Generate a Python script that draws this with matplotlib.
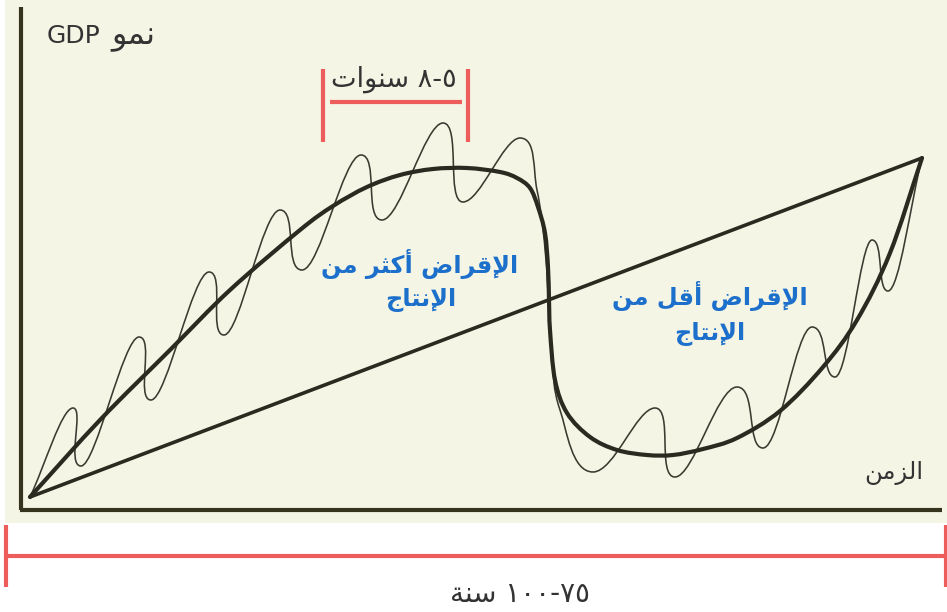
import matplotlib
matplotlib.use("Agg")
import matplotlib.pyplot as plt
from matplotlib.path import Path
from matplotlib.patches import PathPatch, Rectangle
import numpy as np

plt.rcParams['font.family'] = ['DejaVu Sans']

# ---------------- data (pixel-like units) ----------------
trend_x = [30, 922]
trend_y = [497, 158]

cycle_x = [30, 100, 170, 230, 300, 333, 367, 400, 433, 467, 500, 517, 530, 538,
           545, 548, 549, 550, 555, 567, 590, 617, 647, 673, 703, 737, 780, 823,
           857, 890, 922]
cycle_y = [497, 420, 350, 290, 230, 206, 187, 175, 169, 168, 172, 178, 188, 207,
           233, 267, 300, 330, 380, 413, 437, 450, 455, 455, 449, 438, 411, 367,
           320, 253, 158]

# short-cycle trace; wave_turn marks turning points (peaks / troughs)
wave_x = [30, 73, 81, 139, 151, 209, 224, 280, 302, 361, 382, 443, 463, 520,
          537, 546, 551, 560, 593, 655, 675, 737, 763, 812, 835, 872, 888, 922]
wave_y = [497, 408, 466, 337, 400, 272, 335, 210, 270, 155, 220, 123, 202, 138,
          190, 260, 350, 410, 472, 408, 477, 387, 448, 327, 377, 240, 291, 158]
wave_turn = [0, 1, 1, 1, 1, 1, 1, 1, 1, 1, 1, 1, 1, 1,
             0, 0, 0, 0, 1, 1, 1, 1, 1, 1, 1, 1, 1, 0]

label_y_axis = "نمو"
label_gdp = "GDP"
label_time = "الزمن"
label_short = "سنوات"
label_short_num = "٨-٥"
label_long = "سنة"
label_long_num = "١٠٠-٧٥"
label_more = ["الإقراض أكثر من", "الإنتاج"]
label_less = ["الإقراض أقل من", "الإنتاج"]

# ---------------- minimal Arabic shaping ----------------
FORMS = {
    'ا': ('\uFE8D', '\uFE8E', None, None),
    'أ': ('\uFE83', '\uFE84', None, None),
    'إ': ('\uFE87', '\uFE88', None, None),
    'ت': ('\uFE95', '\uFE96', '\uFE97', '\uFE98'),
    'ث': ('\uFE99', '\uFE9A', '\uFE9B', '\uFE9C'),
    'ج': ('\uFE9D', '\uFE9E', '\uFE9F', '\uFEA0'),
    'ر': ('\uFEAD', '\uFEAE', None, None),
    'ز': ('\uFEAF', '\uFEB0', None, None),
    'س': ('\uFEB1', '\uFEB2', '\uFEB3', '\uFEB4'),
    'ض': ('\uFEBD', '\uFEBE', '\uFEBF', '\uFEC0'),
    'ق': ('\uFED5', '\uFED6', '\uFED7', '\uFED8'),
    'ك': ('\uFED9', '\uFEDA', '\uFEDB', '\uFEDC'),
    'ل': ('\uFEDD', '\uFEDE', '\uFEDF', '\uFEE0'),
    'م': ('\uFEE1', '\uFEE2', '\uFEE3', '\uFEE4'),
    'ن': ('\uFEE5', '\uFEE6', '\uFEE7', '\uFEE8'),
    'و': ('\uFEED', '\uFEEE', None, None),
    'ة': ('\uFE93', '\uFE94', None, None),
}
LAM_ALEF = {'ا': ('\uFEFB', '\uFEFC'), 'أ': ('\uFEF7', '\uFEF8'), 'إ': ('\uFEF9', '\uFEFA')}


def shape(s):
    toks = []
    i = 0
    while i < len(s):
        c = s[i]
        if c == 'ل' and i + 1 < len(s) and s[i + 1] in LAM_ALEF:
            toks.append(('LA', s[i + 1]))
            i += 2
        else:
            toks.append(('C', c))
            i += 1

    def is_ar(t):
        return t[0] == 'LA' or t[1] in FORMS

    def joins_next(t):
        return t[0] == 'C' and t[1] in FORMS and FORMS[t[1]][2] is not None

    out = []
    for k, t in enumerate(toks):
        pj = k > 0 and joins_next(toks[k - 1]) and is_ar(t)
        nj = joins_next(t) and k + 1 < len(toks) and is_ar(toks[k + 1])
        if t[0] == 'LA':
            out.append(LAM_ALEF[t[1]][1] if pj else LAM_ALEF[t[1]][0])
        elif t[1] in FORMS:
            f = FORMS[t[1]]
            if pj and nj:
                out.append(f[3])
            elif pj:
                out.append(f[1])
            elif nj:
                out.append(f[2])
            else:
                out.append(f[0])
        else:
            out.append(t[1])
    return ''.join(reversed(out))


def smooth_path(xs, ys, turn=None, round_k=1.0):
    """Cubic Hermite path through the knots; turning points get horizontal tangents."""
    P = np.column_stack([xs, ys]).astype(float)
    n = len(P)
    if turn is None:
        turn = [0] * n
    T = np.zeros_like(P)
    for i in range(n):
        a = P[i - 1] if i > 0 else P[i]
        b = P[i + 1] if i + 1 < n else P[i]
        d = (b - a) if (i == 0 or i == n - 1) else (b - a) / 2.0
        if turn[i]:
            T[i] = [d[0] * round_k, 0.0]
        else:
            T[i] = d
    verts = [P[0]]
    codes = [Path.MOVETO]
    for i in range(n - 1):
        verts += [P[i] + T[i] / 3.0, P[i + 1] - T[i + 1] / 3.0, P[i + 1]]
        codes += [Path.CURVE4] * 3
    return Path(verts, codes)


# ---------------- figure ----------------
W, H = 947, 612
fig = plt.figure(figsize=(W / 100, H / 100), dpi=100)
fig.patch.set_facecolor('white')
ax = fig.add_axes([0, 0, 1, 1])
ax.set_xlim(0, W)
ax.set_ylim(H, 0)
ax.axis('off')

cream = '#f4f5e4'
ink = '#2a2a20'
blue = '#1c6fcb'
red = '#ec5d5b'
txt = '#333333'

ax.add_patch(Rectangle((5, 0), 942, 523, facecolor=cream, edgecolor='none', zorder=0))

# axes lines
ax.plot([21, 21], [7, 510], color='#35351f', lw=3.0, solid_capstyle='butt', zorder=2)
ax.plot([19.5, 942], [510, 510], color='#35351f', lw=3.0, solid_capstyle='butt', zorder=2)

# trend line
ax.plot(trend_x, trend_y, color=ink, lw=2.6, solid_capstyle='round', zorder=3)

# long cycle (thick)
ax.add_patch(PathPatch(smooth_path(cycle_x, cycle_y), facecolor='none', edgecolor=ink,
                       lw=3.0, capstyle='round', joinstyle='round', zorder=4))
# short cycles (thin)
ax.add_patch(PathPatch(smooth_path(wave_x, wave_y, wave_turn, round_k=1.35),
                       facecolor='none', edgecolor='#3a3a30', lw=1.15, capstyle='round',
                       joinstyle='round', zorder=3))

# top red bracket
ax.plot([323, 323], [69, 142], color=red, lw=3.0, solid_capstyle='butt', zorder=5)
ax.plot([468, 468], [69, 142], color=red, lw=3.0, solid_capstyle='butt', zorder=5)
ax.plot([330, 462], [102, 102], color=red, lw=3.0, solid_capstyle='butt', zorder=5)

# bottom red bracket
ax.plot([5.5, 5.5], [525, 587], color=red, lw=3.0, solid_capstyle='butt', zorder=5)
ax.plot([945.5, 945.5], [525, 587], color=red, lw=3.0, solid_capstyle='butt', zorder=5)
ax.plot([5.5, 945.5], [556, 556], color=red, lw=3.0, solid_capstyle='butt', zorder=5)

# texts
ax.text(47, 36, label_gdp, fontsize=18, color=txt, ha='left', va='center', zorder=6)
ax.text(155, 36, shape(label_y_axis), fontsize=23, color=txt, ha='right', va='center',
        zorder=6)
ax.text(394, 79, shape(label_short) + ' ' + label_short_num, fontsize=19.5, color=txt,
        ha='center', va='center', zorder=6)
ax.text(894, 473, shape(label_time), fontsize=17.5, color=txt,
        ha='center', va='center', zorder=6)
ax.text(520, 594, shape(label_long) + ' ' + label_long_num, fontsize=20, color=txt,
        ha='center', va='center', zorder=6)

ax.text(420, 264, shape(label_more[0]), fontsize=17.3, color=blue, fontweight='bold',
        ha='center', va='center', zorder=6)
ax.text(421, 300, shape(label_more[1]), fontsize=17.3, color=blue, fontweight='bold',
        ha='center', va='center', zorder=6)
ax.text(710, 296, shape(label_less[0]), fontsize=17.3, color=blue, fontweight='bold',
        ha='center', va='center', zorder=6)
ax.text(710, 334, shape(label_less[1]), fontsize=17.3, color=blue, fontweight='bold',
        ha='center', va='center', zorder=6)

fig.savefig('out.png', dpi=100, facecolor='white')
